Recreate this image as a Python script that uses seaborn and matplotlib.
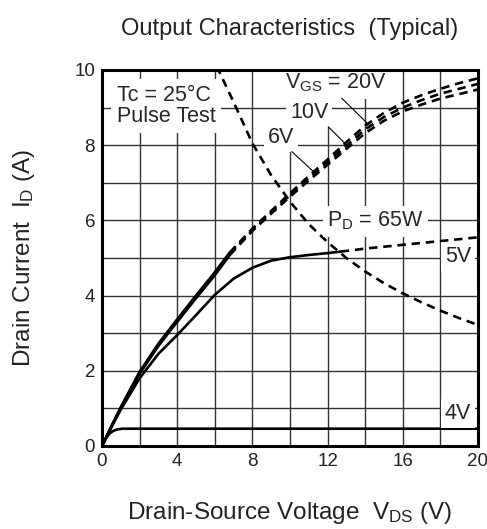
import numpy as np
import pandas as pd
import matplotlib
matplotlib.use("Agg")
import matplotlib.pyplot as plt
import seaborn as sns

# VGS = 20V / 10V / 6V : solid part (measured) then dashed part
vgs_solid_vds = [0, 0.5, 1, 2, 3, 4, 5, 6, 6.8]
vgs20_solid_id = [0, 0.52, 1.03, 1.97, 2.72, 3.37, 4.0, 4.62, 5.15]
vgs10_solid_id = [0, 0.52, 1.02, 1.95, 2.70, 3.34, 3.97, 4.58, 5.12]
vgs6_solid_id = [0, 0.51, 1.0, 1.92, 2.66, 3.30, 3.93, 4.54, 5.08]

vgs_dash_vds = [6.8, 8, 9, 10, 11, 12, 13, 14, 15, 16, 17, 18, 19, 20]
vgs20_dash_id = [5.15, 5.78, 6.25, 6.72, 7.18, 7.62, 8.08, 8.52, 8.86, 9.13, 9.33, 9.5, 9.65, 9.78]
vgs10_dash_id = [5.12, 5.75, 6.22, 6.68, 7.12, 7.55, 7.98, 8.42, 8.75, 9.0, 9.2, 9.37, 9.5, 9.63]
vgs6_dash_id = [5.08, 5.72, 6.18, 6.63, 7.06, 7.48, 7.9, 8.32, 8.65, 8.9, 9.08, 9.24, 9.36, 9.48]

# VGS = 5V
vgs5_solid_vds = [0, 0.5, 1, 2, 3, 4, 5, 6, 7, 8, 9, 10, 11, 12, 12.7]
vgs5_solid_id = [0, 0.5, 0.97, 1.8, 2.45, 2.95, 3.48, 4.02, 4.45, 4.74, 4.93, 5.02, 5.08, 5.13, 5.17]
vgs5_dash_vds = [12.7, 14, 16, 18, 20]
vgs5_dash_id = [5.17, 5.25, 5.35, 5.45, 5.55]

# VGS = 4V
vgs4_vds = [0, 0.2, 0.4, 0.6, 0.8, 1.1, 20]
vgs4_id = [0, 0.2, 0.33, 0.4, 0.44, 0.46, 0.46]

# PD = 65W limit
pd_vds = [6.1, 7, 8, 9, 10, 11, 12, 13, 14, 15, 16, 17, 18, 19, 20]
pd_id = [10.1, 9.15, 8.05, 7.2, 6.5, 5.9, 5.42, 5.0, 4.64, 4.33, 4.06, 3.82, 3.6, 3.4, 3.22]

sns.set_style("white")
plt.rcParams["font.family"] = ["Liberation Sans", "DejaVu Sans"]
plt.rcParams["mathtext.fontset"] = "custom"
plt.rcParams["mathtext.rm"] = "Liberation Sans"
plt.rcParams["mathtext.default"] = "regular"

fig = plt.figure(figsize=(4.87, 5.29), dpi=100)
ax = fig.add_axes([0.2094, 0.1569, 0.7721, 0.7108])

lw = 1.9
dash = (0, (3.2, 2.2))
solid_sets = [(vgs_solid_vds, vgs20_solid_id), (vgs_solid_vds, vgs10_solid_id),
              (vgs_solid_vds, vgs6_solid_id), (vgs5_solid_vds, vgs5_solid_id),
              (vgs4_vds, vgs4_id)]
dash_sets = [(vgs_dash_vds, vgs20_dash_id), (vgs_dash_vds, vgs10_dash_id),
             (vgs_dash_vds, vgs6_dash_id), (vgs5_dash_vds, vgs5_dash_id),
             (pd_vds, pd_id)]
for xs, ys in solid_sets:
    sns.lineplot(x=xs, y=ys, ax=ax, color="black", lw=lw, estimator=None, zorder=3)
for xs, ys in dash_sets:
    sns.lineplot(x=xs, y=ys, ax=ax, color="black", lw=lw, linestyle=dash, estimator=None, zorder=3)

ax.set_xlim(0, 20)
ax.set_ylim(0, 10)
ax.set_xticks(range(0, 21, 4))
ax.set_xticks(range(0, 21, 2), minor=True)
ax.set_yticks(range(0, 11, 2))
ax.set_yticks(range(0, 11, 1), minor=True)
ax.grid(which="both", color="#333333", lw=1.0, zorder=1)
ax.set_axisbelow(True)
ax.tick_params(which="both", length=0, labelsize=13.5, pad=5, colors="#222222")
for s in ax.spines.values():
    s.set_linewidth(2.2)
    s.set_color("black")
    s.set_zorder(5)

ax.set_title("Output Characteristics  (Typical)", fontsize=17, pad=25, color="#222222")
ax.set_xlabel(r"Drain-Source Voltage  $V_{DS}$ (V)", fontsize=17.5, color="#222222")
ax.set_ylabel(r"Drain Current  $I_D$ (A)", fontsize=17.5, color="#222222")
ax.xaxis.set_label_coords(0.5, -0.143)
ax.yaxis.set_label_coords(-0.172, 0.5)

box = dict(facecolor="white", edgecolor="none", pad=3)
fs = 15.5
ax.text(0.8, 9.04, "Tc = 25°C\nPulse Test", fontsize=fs, ha="left", va="center",
        linespacing=1.05, bbox=dict(facecolor="white", edgecolor="none", pad=4), zorder=4)
ax.text(9.73, 9.65, r"$V_{GS}$ = 20V", fontsize=fs, ha="left", va="center", bbox=box, zorder=4)
ax.text(10.0, 8.86, "10V", fontsize=fs, ha="left", va="center", bbox=box, zorder=4)
ax.text(8.83, 8.2, "6V", fontsize=fs, ha="left", va="center", bbox=box, zorder=4)
ax.text(11.97, 5.98, r"$P_D$ = 65W", fontsize=fs, ha="left", va="center", bbox=box, zorder=4)
ax.text(18.24, 5.03, "5V", fontsize=fs, ha="left", va="center", bbox=box, zorder=4)
ax.text(18.24, 0.87, "4V", fontsize=fs, ha="left", va="center", bbox=box, zorder=4)

leaders = [((12.75, 9.25), (14.2, 8.54)), ((12.04, 8.49), (13.1, 7.96)), ((10.1, 7.83), (11.24, 7.3))]
for start, end in leaders:
    ax.annotate("", xy=end, xytext=start,
                arrowprops=dict(arrowstyle="-", lw=0.8, color="black", shrinkA=0, shrinkB=0), zorder=4)

fig.savefig("out.png", dpi=100)
